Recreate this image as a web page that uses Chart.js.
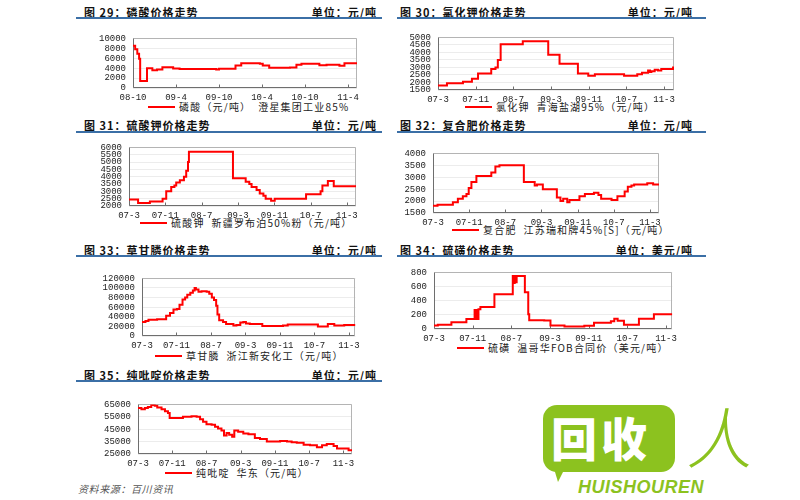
<!DOCTYPE html>
<html>
<head>
<meta charset="utf-8">
<script src="https://cdn.jsdelivr.net/npm/chart.js@4.4.1/dist/chart.umd.min.js"></script>
<style>
  body { margin: 0; width: 800px; height: 500px; background: #fff; position: relative; overflow: hidden;
         font-family: "Noto Sans CJK SC", sans-serif; color: #111; }
  .abs { position: absolute; white-space: nowrap; }
  .title { font-size: 11px; font-weight: bold; letter-spacing: 1px; line-height: 14px; }
  .unit { font-size: 11px; font-weight: bold; letter-spacing: 1px; line-height: 14px; text-align: right; }
  .rule { height: 2px; background: #3b6fa6; }
  .legend { font-size: 10px; letter-spacing: 1.2px; line-height: 14px; display: flex; align-items: center; color: #222; }
  .legend i { display: inline-block; width: 27px; height: 2px; background: #ff0000; margin-right: 4px; }
  .source { font-size: 10px; font-style: italic; color: #555; letter-spacing: 0.6px; }
</style>
</head>
<body>

<!-- titles -->
<div class="abs title" style="left:84px;top:5px">图 29：磷酸价格走势</div>
<div class="abs unit" style="right:423px;top:5px">单位：元/吨</div>
<div class="abs rule" style="left:76px;top:17px;width:306px"></div>
<div class="abs title" style="left:400px;top:5px">图 30：氯化钾价格走势</div>
<div class="abs unit" style="right:107px;top:5px">单位：元/吨</div>
<div class="abs rule" style="left:397px;top:17px;width:309px"></div>

<div class="abs title" style="left:84px;top:118px">图 31：硫酸钾价格走势</div>
<div class="abs unit" style="right:423px;top:118px">单位：元/吨</div>
<div class="abs rule" style="left:76px;top:131px;width:306px"></div>
<div class="abs title" style="left:400px;top:118px">图 32：复合肥价格走势</div>
<div class="abs unit" style="right:107px;top:118px">单位：元/吨</div>
<div class="abs rule" style="left:397px;top:131px;width:309px"></div>

<div class="abs title" style="left:84px;top:243px">图 33：草甘膦价格走势</div>
<div class="abs unit" style="right:423px;top:243px">单位：元/吨</div>
<div class="abs rule" style="left:76px;top:255px;width:306px"></div>
<div class="abs title" style="left:400px;top:243px">图 34：硫磺价格走势</div>
<div class="abs unit" style="right:107px;top:243px">单位：美元/吨</div>
<div class="abs rule" style="left:397px;top:255px;width:309px"></div>

<div class="abs title" style="left:84px;top:368px">图 35：纯吡啶价格走势</div>
<div class="abs unit" style="right:423px;top:368px">单位：元/吨</div>
<div class="abs rule" style="left:76px;top:380px;width:306px"></div>

<!-- legends -->
<div class="abs legend" style="left:148px;top:100px"><i></i>磷酸（元/吨）&nbsp;&nbsp;澄星集团工业85%</div>
<div class="abs legend" style="left:465px;top:100px"><i></i>氯化钾&nbsp;&nbsp;青海盐湖95%（元/吨）</div>
<div class="abs legend" style="left:140px;top:216px"><i></i>硫酸钾&nbsp;&nbsp;新疆罗布泊50%粉（元/吨）</div>
<div class="abs legend" style="left:452px;top:223px"><i></i>复合肥&nbsp;&nbsp;江苏瑞和牌45%[S]（元/吨）</div>
<div class="abs legend" style="left:155px;top:349px"><i></i>草甘膦&nbsp;&nbsp;浙江新安化工（元/吨）</div>
<div class="abs legend" style="left:457px;top:341px"><i></i>硫磺&nbsp;&nbsp;温哥华FOB合同价（美元/吨）</div>
<div class="abs legend" style="left:165px;top:466px"><i></i>纯吡啶&nbsp;&nbsp;华东（元/吨）</div>

<div class="abs source" style="left:78px;top:481px">资料来源：百川资讯</div>

<!-- watermark logo -->
<div class="abs" style="left:543px;top:405px;width:132px;height:67px;border-radius:14px;background:#8cc21f"></div>
<div class="abs" style="left:552px;top:462px;width:0;height:0;border-left:6px solid transparent;border-right:10px solid transparent;border-top:20px solid #8cc21f"></div>
<div class="abs" style="left:551px;top:404px;font-size:46px;font-weight:900;color:#fff;line-height:64px;letter-spacing:4px">回收</div>
<div class="abs" style="left:690px;top:396px;font-size:66px;font-weight:300;color:#8cc21f;line-height:76px;transform:skewX(-8deg)">人</div>
<div class="abs" style="left:578px;top:477px;font-family:'Liberation Sans',sans-serif;font-size:18px;font-weight:bold;font-style:italic;color:#8cc21f;line-height:20px;letter-spacing:0.5px">HUISHOUREN</div>

<script>
// ---- data (x = months from the first label; y = price) ----
// 图29 磷酸 (from 08-10)
const phosLabels = ['08-10', '09-4', '09-10', '10-4', '10-10', '11-4'];
const phosMonths = [0, 0.3, 0.6, 0.85, 1.0, 1.95, 2.7, 3.35, 4.1, 5.6, 6.5, 11.6, 12, 14.3, 15.1, 17.7, 18.1, 19, 21.9, 22.8, 23.5, 26, 27, 28.8, 29.5, 31.25];
const phosPrice  = [8500, 7800, 6900, 5900, 1400, 4000, 3600, 3750, 4200, 3950, 3850, 3750, 3900, 4550, 5000, 4900, 4550, 4100, 4150, 4700, 4900, 4600, 4700, 4500, 5000, 5000];

// shared month labels for the 07-3 .. 11-3 charts
const monthLabels = ['07-3', '07-11', '08-7', '09-3', '09-11', '10-7', '11-3'];

// 图30 氯化钾
const kclMonths = [0, 1.9, 5.3, 7.2, 8.5, 11.3, 12.2, 12.7, 13.3, 18, 23.4, 25.8, 29.7, 31.9, 33.3, 39.5, 42.3, 43.3, 44.6, 45, 45.3, 46, 46.7, 47.4, 49.9, 50.1];
const kclPrice  = [1800, 1950, 2050, 2250, 2600, 2900, 3000, 3500, 4550, 4750, 3850, 3250, 2600, 2450, 2550, 2450, 2550, 2650, 2800, 2700, 2750, 2850, 2800, 2900, 3000, 3000];

// 图31 硫酸钾
const sopMonths = [0, 2, 4.6, 7.4, 8.2, 9.3, 10, 10.4, 11.2, 12.1, 12.6, 13, 13.2, 22.9, 25.7, 26.5, 27, 28.1, 28.8, 29.6, 30.1, 31.3, 32.1, 39, 42.2, 42.6, 43.8, 45.1, 50];
const sopPrice  = [2450, 2200, 2300, 2500, 3000, 3300, 3400, 3600, 3750, 4000, 4400, 5000, 5700, 3900, 3650, 3500, 3300, 3100, 2850, 2700, 2500, 2350, 2500, 2800, 3000, 3400, 3700, 3350, 3350];

// 图32 复合肥
const npkMonths = [0, 1, 4.4, 5.5, 6.6, 7.4, 7.9, 8.5, 9.6, 12.9, 13.8, 14.7, 20.1, 22.5, 23, 24.3, 27.4, 28.2, 28.8, 29.7, 30.2, 32.4, 33.6, 35.6, 36.6, 37.2, 39.5, 40.8, 42.4, 43.1, 43.9, 44.5, 47.4, 48.7, 50];
const npkPrice  = [1800, 1850, 1950, 2100, 2200, 2300, 2550, 2800, 3050, 3200, 3450, 3500, 2800, 2650, 2700, 2500, 2150, 2000, 2100, 1950, 2050, 2200, 2300, 2350, 2250, 2100, 2050, 2200, 2400, 2600, 2650, 2700, 2750, 2700, 2700];

// 图33 草甘膦
const glyMonths = [0, 0.8, 1.5, 3.5, 5.6, 6.5, 7.3, 8.1, 8.7, 9.4, 10, 10.5, 11.2, 11.8, 12.2, 12.5, 13.1, 13.8, 15, 15.6, 16.2, 16.7, 17.2, 17.5, 17.9, 18.8, 19.5, 21.2, 21.9, 22.8, 23.5, 24.1, 25, 27.9, 31.9, 32.7, 33.8, 40.8, 43.1, 44.6, 46.9, 49.5];
const glyPrice  = [29000, 31000, 34000, 35000, 42000, 48000, 55000, 56000, 65000, 76000, 80000, 86000, 90000, 95000, 100000, 97000, 92000, 93000, 92000, 88000, 80000, 75000, 63000, 45000, 33000, 29000, 25000, 22000, 23000, 28000, 29000, 26000, 25000, 21000, 21000, 22000, 24000, 20000, 25000, 22000, 23000, 23000];

// 图34 硫磺 (美元/吨)
const sulMonths = [0, 0.8, 3.6, 6.7, 8.4, 8.6, 8.8, 9.0, 9.2, 9.6, 12.5, 16.3, 16.5, 16.7, 16.9, 17.1, 18.8, 19.5, 19.7, 22.8, 24.1, 27, 31.1, 33.1, 36.6, 37.3, 38, 39.3, 42.4, 45.5, 49.3];
const sulPrice  = [50, 60, 95, 140, 270, 140, 270, 140, 280, 310, 490, 750, 650, 750, 660, 750, 520, 210, 125, 120, 50, 35, 45, 90, 110, 145, 115, 60, 145, 210, 210];

// 图35 纯吡啶
const pyrMonths = [0, 0.8, 1.6, 2.3, 3.1, 3.9, 4.5, 5.5, 6.3, 7, 7.4, 9.8, 10.5, 12.5, 13.7, 14.5, 15.2, 16, 17.2, 18, 18.7, 19.5, 20.1, 20.7, 21.3, 22, 22.5, 23.4, 24.6, 25.8, 27.3, 28.5, 30.1, 32, 33.2, 34.8, 35.9, 37.1, 38.7, 40.2, 41.8, 43, 44.1, 45.7, 46.5, 48, 49.2, 50];
const pyrPrice  = [62000, 61000, 62000, 63000, 64500, 64000, 62500, 61000, 59500, 58000, 54000, 54000, 55000, 55500, 55000, 53000, 51000, 49000, 48500, 47000, 45500, 44000, 40000, 42000, 40500, 39000, 44000, 43000, 41500, 41000, 38000, 37000, 35000, 35000, 35500, 35000, 34500, 34000, 32500, 32000, 30500, 32000, 33000, 31500, 29500, 29500, 28000, 28000];

Chart.defaults.font.family = "'Liberation Mono', monospace";
Chart.defaults.font.size = 9;
Chart.defaults.color = '#222';

// plot frame: light top/right, darker left/bottom axes, small x tick marks
const frame = {
  id: 'frame',
  beforeDatasetsDraw(chart) {
    const { ctx, chartArea: a, scales } = chart;
    const l = Math.round(a.left) + 0.5, t = Math.round(a.top) + 0.5;
    const r = Math.round(a.right) - 0.5, b = Math.round(a.bottom) - 0.5;
    ctx.save();
    ctx.lineWidth = 1;
    ctx.strokeStyle = '#b4b4b4';
    ctx.beginPath();
    ctx.moveTo(l, t); ctx.lineTo(r, t); ctx.lineTo(r, b);
    ctx.stroke();
    ctx.strokeStyle = '#6e6e6e';
    ctx.beginPath();
    ctx.moveTo(l, t); ctx.lineTo(l, b); ctx.lineTo(r, b);
    scales.x.ticks.forEach(tk => {
      const x = Math.round(scales.x.getPixelForValue(tk.value)) + 0.5;
      ctx.moveTo(x, b); ctx.lineTo(x, b - 3);
    });
    ctx.stroke();
    ctx.restore();
  }
};

// box = plot area [left, top, right, bottom] on the page
function makeChart(box, xs, ys, y, xMax, xStep, xLabels) {
  const padL = 62, padT = 6, padR = 8, padB = 18;
  const w = box[2] - box[0] + padL + padR;
  const h = box[3] - box[1] + padT + padB;
  const c = document.createElement('canvas');
  c.width = w; c.height = h;
  c.style.cssText = `position:absolute;left:${box[0] - padL}px;top:${box[1] - padT}px;width:${w}px;height:${h}px`;
  document.body.appendChild(c);

  new Chart(c, {
    type: 'line',
    data: {
      datasets: [{
        data: xs.map((x, i) => ({ x, y: ys[i] })),
        borderColor: '#ff0000',
        borderWidth: 2,
        pointRadius: 0,
        stepped: true,
        fill: false
      }]
    },
    options: {
      responsive: false,
      animation: false,
      layout: { padding: { top: padT, right: padR } },
      plugins: { legend: { display: false }, tooltip: { enabled: false } },
      scales: {
        x: {
          type: 'linear', min: 0, max: xMax,
          grid: { display: false, drawTicks: false }, border: { display: false },
          afterBuildTicks: s => { s.ticks = xLabels.map((_, i) => ({ value: i * xStep })); },
          afterFit: s => { s.height = padB; },
          ticks: { padding: 4, maxRotation: 0, autoSkip: false, callback: (v, i) => xLabels[i] }
        },
        y: {
          min: y[0], max: y[1],
          grid: { display: true, drawTicks: false, color: '#ececec', lineWidth: 1 }, border: { display: false },
          afterFit: s => { s.width = padL; },
          ticks: { stepSize: y[2], padding: 7, autoSkip: false, callback: v => String(v) }
        }
      }
    },
    plugins: [frame]
  });
}

makeChart([133, 32, 357, 88],  phosMonths, phosPrice, [0, 10000, 2000],     31.25, 6, phosLabels);
makeChart([438, 31, 674, 90],  kclMonths,  kclPrice,  [1500, 5000, 500],    50.1,  8, monthLabels);
makeChart([129, 141, 356, 206], sopMonths, sopPrice,  [2000, 6000, 500],    50,    8, monthLabels);
makeChart([433, 147, 659, 213], npkMonths, npkPrice,  [1500, 4000, 500],    50,    8, monthLabels);
makeChart([142, 272, 356, 336], glyMonths, glyPrice,  [0, 120000, 20000],   49.5,  8, monthLabels);
makeChart([434, 266, 673, 329], sulMonths, sulPrice,  [0, 800, 200],        49.3,  8, monthLabels);
makeChart([138, 398, 352, 454], pyrMonths, pyrPrice,  [25000, 65000, 10000], 50,  8, monthLabels);
</script>
</body>
</html>
